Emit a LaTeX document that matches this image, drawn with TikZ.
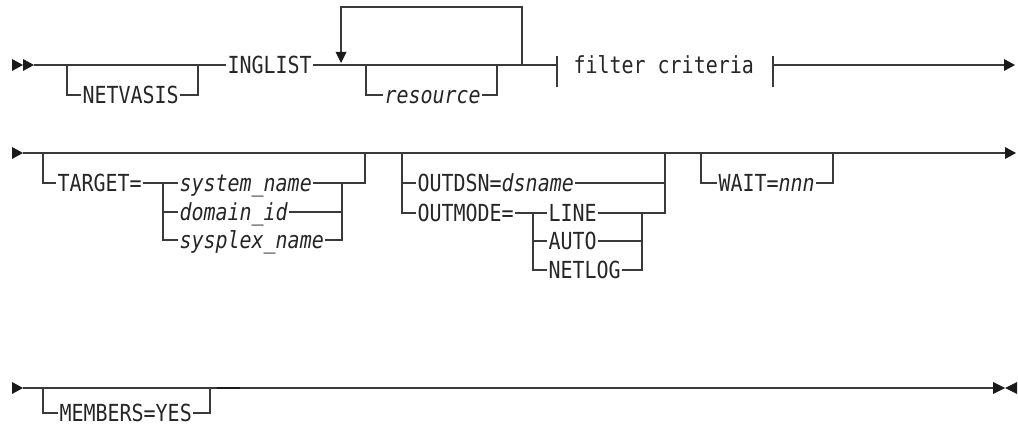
\documentclass[tikz,border=0pt]{standalone}
\usepackage{fontspec}
\newfontfamily\rrfont[FakeStretch=0.85]{DejaVu Sans Mono}
\definecolor{lc}{HTML}{3A3A3A}
\definecolor{tc}{HTML}{262626}
\definecolor{ac}{HTML}{1A1A1A}
\begin{document}
\begin{tikzpicture}[x=1pt,y=-1pt,line width=1.4pt,
  rail/.style={draw=lc,line width=1.4pt},
  kw/.style={inner xsep=1.5pt,inner ysep=0pt,outer sep=0pt,anchor=west,
    text height=17pt,text depth=0pt,text=tc,font=\rrfont\fontsize{23.5}{23.5}\selectfont},
  var/.style={kw,font=\rrfont\itshape\fontsize{23.5}{23.5}\selectfont},
  head/.style={fill=ac,draw=none}]
\useasboundingbox (0,0) rectangle (1018,427);

% ---------- row 1 ----------
\fill[head] (12,59) -- (23,65) -- (12,71) -- cycle;
\fill[head] (23,59) -- (34,65) -- (23,71) -- cycle;
\node[kw] (netvasis) at (81,95) {NETVASIS};
\node[kw] (inglist) at (226,65) {INGLIST};
\node[var] (resource) at (383,95) {resource};
\node[kw] (filter) at (572,65) {filter criteria};
\coordinate (t1) at (557,65);
\coordinate (t2) at (773,65);
\coordinate (e1) at (1004,65);
\draw[rail] (34,65) -- (inglist.west);
\draw[rail] (67,65) |- (netvasis.west);
\draw[rail] (netvasis.east) -| (198,65);
\draw[rail] (inglist.east) -- (t1);
\draw[rail] (366,65) |- (resource.west);
\draw[rail] (resource.east) -| (497,65);
\draw[rail] (522,65) -- (522,7) -- (341,7) -- (341,52);
\fill[head] (335.5,52) -- (346.5,52) -- (341,63) -- cycle;
\draw[rail] (557,56) -- (557,87);
\draw[rail] (773,56) -- (773,87);
\draw[rail] (t2) -- (e1);
\fill[head] (1004,59) -- (1015,65) -- (1004,71) -- cycle;

% ---------- row 2 ----------
\fill[head] (12,147) -- (23,153) -- (12,159) -- cycle;
\draw[rail] (23,153) -- (1005,153);
\fill[head] (1005,147) -- (1016,153) -- (1005,159) -- cycle;
\node[kw] (target) at (56,183) {TARGET=};
\node[var] (sysname) at (178,183) {system\_name};
\node[var] (domain) at (178,212) {domain\_id};
\node[var] (sysplex) at (178,240) {sysplex\_name};
\draw[rail] (43,153) |- (target.west);
\draw[rail] (target.east) -- (sysname.west);
\draw[rail] (163,183) |- (domain.west);
\draw[rail] (163,183) |- (sysplex.west);
\draw[rail] (sysname.east) -- (365,183) -- (365,153);
\draw[rail] (domain.east) -| (342,183);
\draw[rail] (sysplex.east) -| (342,183);

\node[kw] (outdsn) at (416,183) {OUTDSN=\itshape dsname};
\node[kw] (outmode) at (416,213) {OUTMODE=};
\node[kw] (line) at (547,213) {LINE};
\node[kw] (auto) at (547,241) {AUTO};
\node[kw] (netlog) at (547,270) {NETLOG};
\draw[rail] (402,153) |- (outdsn.west);
\draw[rail] (402,183) |- (outmode.west);
\draw[rail] (outdsn.east) -| (665,153);
\draw[rail] (outmode.east) -- (line.west);
\draw[rail] (533,213) |- (auto.west);
\draw[rail] (533,213) |- (netlog.west);
\draw[rail] (line.east) -| (665,183);
\draw[rail] (auto.east) -| (642,213);
\draw[rail] (netlog.east) -| (642,213);

\node[kw] (wait) at (717,183) {WAIT=\itshape nnn};
\draw[rail] (701,153) |- (wait.west);
\draw[rail] (wait.east) -| (833,153);

% ---------- row 3 ----------
\fill[head] (12,382) -- (23,388) -- (12,394) -- cycle;
\node[kw] (members) at (58,413) {MEMBERS=YES};
\coordinate (e3) at (993,388);
\draw[rail] (23,388) -- (e3);
\draw[rail] (43,388) |- (members.west);
\draw[rail] (members.east) -| (210,388);
\draw[draw=ac,line width=2.4pt] (217,388) -- (240,388);
\fill[head] (993,382) -- (1005,388) -- (993,394) -- cycle;
\fill[head] (1017,382) -- (1005,388) -- (1017,394) -- cycle;
\end{tikzpicture}
\end{document}
